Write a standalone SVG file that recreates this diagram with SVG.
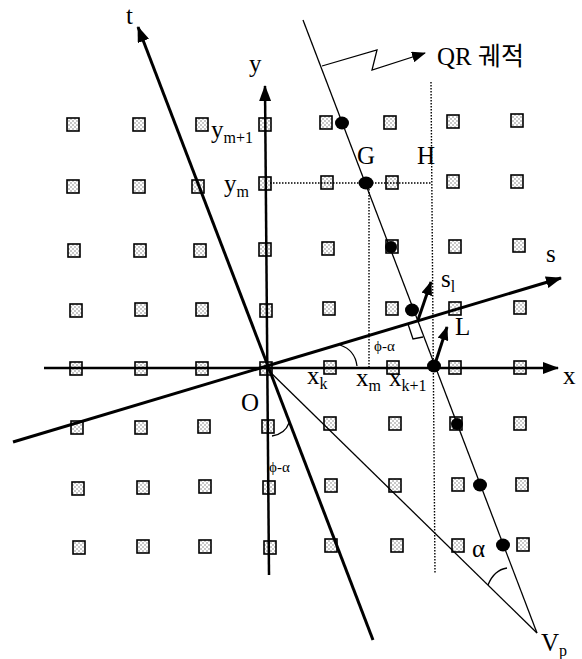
<svg xmlns="http://www.w3.org/2000/svg" width="582" height="659" viewBox="0 0 582 659">
<style>
.lbl{font-family:"Liberation Serif","Noto Sans CJK KR",serif;font-size:25px;fill:#000}
.sub{font-size:16px}
.sm{font-family:"Liberation Serif",serif;font-size:15px;fill:#000}
.thick{stroke:#000;stroke-width:3;fill:none}
.axis{stroke:#000;stroke-width:2.5;fill:none}
.thin{stroke:#000;stroke-width:1.3;fill:none}
.dot{stroke:#000;stroke-width:1.4;stroke-dasharray:1.5 1.5;fill:none}
.sq{fill:url(#stip);stroke:#000;stroke-width:1.6}
</style>
<defs>
<pattern id="stip" width="4" height="4" patternUnits="userSpaceOnUse">
<rect width="4" height="4" fill="#fff"/>
<circle cx="1" cy="1" r="0.7" fill="#666"/>
<circle cx="3" cy="3" r="0.7" fill="#666"/>
</pattern>
<marker id="ah" markerWidth="16" markerHeight="12" refX="15" refY="6" orient="auto" markerUnits="userSpaceOnUse">
<path d="M0,0 L16,6 L0,12 Z" fill="#000"/>
</marker>
<marker id="ahs" markerWidth="14" markerHeight="11" refX="13" refY="5.5" orient="auto" markerUnits="userSpaceOnUse">
<path d="M0,0 L14,5.5 L0,11 Z" fill="#000"/>
</marker>
</defs>
<rect width="582" height="659" fill="#fff"/>
<g id="grid">
<rect class="sq" x="67" y="118" width="12" height="13"/><rect class="sq" x="133" y="118" width="12" height="13"/><rect class="sq" x="196" y="118" width="12" height="13"/><rect class="sq" x="259" y="118" width="12" height="13"/><rect class="sq" x="320" y="116" width="12" height="13"/><rect class="sq" x="384" y="116" width="12" height="13"/><rect class="sq" x="447" y="115" width="12" height="13"/><rect class="sq" x="511" y="114" width="12" height="13"/>
<rect class="sq" x="67" y="180" width="12" height="13"/><rect class="sq" x="133" y="180" width="12" height="13"/><rect class="sq" x="192" y="180" width="12" height="13"/><rect class="sq" x="259" y="177" width="12" height="13"/><rect class="sq" x="321" y="176" width="12" height="13"/><rect class="sq" x="386" y="176" width="12" height="13"/><rect class="sq" x="447" y="175" width="12" height="13"/><rect class="sq" x="511" y="175" width="12" height="13"/>
<rect class="sq" x="68" y="244" width="12" height="13"/><rect class="sq" x="134" y="244" width="12" height="13"/><rect class="sq" x="194" y="244" width="12" height="13"/><rect class="sq" x="259" y="243" width="12" height="13"/><rect class="sq" x="322" y="242" width="12" height="13"/><rect class="sq" x="386" y="240" width="12" height="13"/><rect class="sq" x="449" y="240" width="12" height="13"/><rect class="sq" x="513" y="239" width="12" height="13"/>
<rect class="sq" x="70" y="304" width="12" height="13"/><rect class="sq" x="135" y="303" width="12" height="13"/><rect class="sq" x="196" y="303" width="12" height="13"/><rect class="sq" x="260" y="304" width="12" height="13"/><rect class="sq" x="323" y="302" width="12" height="13"/><rect class="sq" x="386" y="302" width="12" height="13"/><rect class="sq" x="449" y="302" width="12" height="13"/><rect class="sq" x="514" y="301" width="12" height="13"/>
<rect class="sq" x="70" y="362" width="12" height="13"/><rect class="sq" x="135" y="362" width="12" height="13"/><rect class="sq" x="196" y="362" width="12" height="13"/><rect class="sq" x="260" y="362" width="12" height="13"/><rect class="sq" x="324" y="361" width="12" height="13"/><rect class="sq" x="387" y="361" width="12" height="13"/><rect class="sq" x="449" y="361" width="12" height="13"/><rect class="sq" x="514" y="361" width="12" height="13"/>
<rect class="sq" x="71" y="421" width="12" height="13"/><rect class="sq" x="135" y="421" width="12" height="13"/><rect class="sq" x="198" y="420" width="12" height="13"/><rect class="sq" x="262" y="420" width="12" height="13"/><rect class="sq" x="324" y="417" width="12" height="13"/><rect class="sq" x="389" y="417" width="12" height="13"/><rect class="sq" x="450" y="417" width="12" height="13"/><rect class="sq" x="514" y="417" width="12" height="13"/>
<rect class="sq" x="72" y="482" width="12" height="13"/><rect class="sq" x="137" y="481" width="12" height="13"/><rect class="sq" x="199" y="480" width="12" height="13"/><rect class="sq" x="263" y="481" width="12" height="13"/><rect class="sq" x="325" y="479" width="12" height="13"/><rect class="sq" x="389" y="479" width="12" height="13"/><rect class="sq" x="452" y="478" width="12" height="13"/><rect class="sq" x="516" y="478" width="12" height="13"/>
<rect class="sq" x="73" y="541" width="12" height="13"/><rect class="sq" x="137" y="540" width="12" height="13"/><rect class="sq" x="199" y="540" width="12" height="13"/><rect class="sq" x="264" y="541" width="12" height="13"/><rect class="sq" x="325" y="539" width="12" height="13"/><rect class="sq" x="391" y="539" width="12" height="13"/><rect class="sq" x="452" y="539" width="12" height="13"/><rect class="sq" x="517" y="538" width="12" height="13"/>
</g>
<g id="connectors">
<line class="dot" x1="270" y1="183" x2="432" y2="183"/>
<line class="dot" x1="369" y1="183" x2="369" y2="368"/>
<line class="dot" x1="431" y1="82" x2="435" y2="573"/>
<line class="thin" x1="303" y1="20" x2="537" y2="633"/>
<line class="thin" x1="266" y1="368" x2="537" y2="633"/>
<line class="axis" x1="44" y1="368" x2="558" y2="368" marker-end="url(#ah)"/>
<line class="axis" x1="269" y1="575" x2="265" y2="86" marker-end="url(#ah)"/>
<line class="thick" x1="13" y1="442" x2="561" y2="278" marker-end="url(#ah)"/>
<line class="thick" x1="373" y1="640" x2="138" y2="27" marker-end="url(#ah)"/>
<line class="thick" x1="418" y1="320" x2="431" y2="282" marker-end="url(#ahs)"/>
<line class="thick" x1="434" y1="367" x2="447" y2="327" marker-end="url(#ahs)"/>
<polyline class="thin" stroke-width="1.5" points="408,324 413,339 423,337"/>
<polyline class="thin" stroke-width="1.6" points="322,66 377,50 372,70 425,53" marker-end="url(#ahs)"/>
<path class="thin" d="M340,345 Q355,350 357,366"/>
<path class="thin" d="M272,436 Q285,434 289,423"/>
<path class="thin" d="M488,585 Q494,570 507,568"/>
</g>
<g id="points">
<ellipse cx="342" cy="123" rx="7" ry="6.5"/>
<ellipse cx="366" cy="183" rx="7.5" ry="6.5"/>
<ellipse cx="391" cy="247" rx="6" ry="6"/>
<ellipse cx="412" cy="310" rx="7" ry="6.5"/>
<ellipse cx="434" cy="366" rx="7" ry="6.5"/>
<ellipse cx="457" cy="424" rx="6" ry="6"/>
<ellipse cx="480" cy="485" rx="7" ry="6.5"/>
<ellipse cx="503" cy="545" rx="7" ry="6.5"/>
</g>
<g id="labels">
<text class="lbl" x="437" y="65">QR 궤적</text>
<text class="lbl" x="126" y="24">t</text>
<text class="lbl" x="249" y="72">y</text>
<text class="lbl" x="211" y="138">y<tspan class="sub" dy="5">m+1</tspan></text>
<text class="lbl" x="224" y="192">y<tspan class="sub" dy="5">m</tspan></text>
<text class="lbl" x="357" y="164">G</text>
<text class="lbl" x="417" y="164">H</text>
<text class="lbl" x="546" y="262">s</text>
<text class="lbl" x="441" y="287">s<tspan class="sub" dy="5">l</tspan></text>
<text class="lbl" x="455" y="335">L</text>
<text class="lbl" x="563" y="384">x</text>
<text class="lbl" x="307" y="384">x<tspan class="sub" dy="5">k</tspan></text>
<text class="lbl" x="356" y="386">x<tspan class="sub" dy="5">m</tspan></text>
<text class="lbl" x="389" y="386">x<tspan class="sub" dy="5">k+1</tspan></text>
<text class="lbl" x="241" y="411">O</text>
<text class="sm" x="374" y="351">ϕ-α</text>
<text class="sm" x="269" y="472">ϕ-α</text>
<text class="lbl" x="472" y="557">α</text>
<text class="lbl" x="541" y="651">V<tspan class="sub" dy="5">p</tspan></text>
</g>
</svg>
